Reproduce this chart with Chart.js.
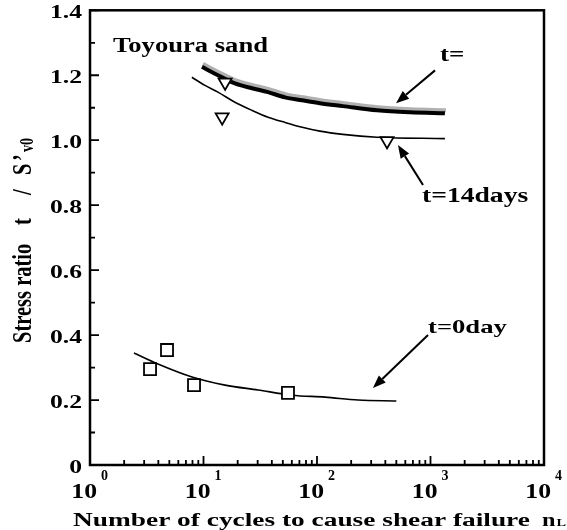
<!DOCTYPE html>
<html>
<head>
<meta charset="utf-8">
<script src="https://cdn.jsdelivr.net/npm/chart.js@4.4.1/dist/chart.umd.min.js"></script>
<style>
  html, body { margin: 0; padding: 0; background: #fff; }
  canvas { display: block; }
</style>
</head>
<body>
<canvas id="chart" width="567" height="530"></canvas>
<script>
// Number of cycles to failure (n_L) and stress ratio for each series
const LONG_CURVE_CYCLES = [9.7, 13.4, 18.9, 26.7, 37.0, 52.2, 73.8, 106, 169, 338, 660, 1340];
const LONG_CURVE_RATIO  = [1.226, 1.200, 1.175, 1.160, 1.148, 1.132, 1.123, 1.114, 1.105, 1.092, 1.086, 1.083];

const DAY14_CURVE_CYCLES = [7.9, 10.3, 13.4, 18.9, 26.7, 37.0, 52.0, 74.0, 106, 169, 338, 1340];
const DAY14_CURVE_RATIO  = [1.194, 1.169, 1.148, 1.117, 1.092, 1.071, 1.055, 1.040, 1.028, 1.018, 1.009, 1.005];
const DAY14_TEST_CYCLES  = [14.6, 15.5, 414];
const DAY14_TEST_RATIO   = [1.071, 1.178, 0.998];

const DAY0_CURVE_CYCLES = [2.44, 3.97, 7.92, 15.5, 30.2, 60.2, 118, 230, 500];
const DAY0_CURVE_RATIO  = [0.345, 0.311, 0.271, 0.246, 0.231, 0.215, 0.209, 0.200, 0.197];
const DAY0_TEST_CYCLES  = [3.38, 4.77, 8.25, 55.5];
const DAY0_TEST_RATIO   = [0.295, 0.354, 0.246, 0.222];

// Axis ticks: decades on x (labelled 10^e), stress ratio on y
const X_TICK_EXPONENTS = [0, 1, 2, 3, 4];
const Y_TICK_LABELS = ['0', '0.2', '0.4', '0.6', '0.8', '1.0', '1.2', '1.4'];

const FONT = "'Liberation Serif', 'Times New Roman', serif";

const toPoints = (xs, ys) => xs.map((x, i) => ({ x: x, y: ys[i] }));

// Text annotations and arrows, placed in data coordinates (cycles, ratio)
const LABELS = [
  { text: 'Toyoura sand', n: 1.595, r: 1.271, size: 20, sx: 1.33 },
  { text: 't=',           n: 1213,  r: 1.243, size: 20, sx: 1.35 },
  { text: 't=14days',     n: 841,   r: 0.809, size: 20, sx: 1.38 },
  { text: 't=0day',       n: 951,   r: 0.406, size: 19, sx: 1.4 }
];
const ARROWS = [
  { from: [1096, 1.215], to: [497, 1.114] },
  { from: [859, 0.862],  to: [517, 0.985] },
  { from: [951, 0.400],  to: [311, 0.237] }
];

function drawText(ctx, s, x, y, size, o) {
  o = o || {};
  ctx.save();
  ctx.font = 'bold ' + size + 'px ' + FONT;
  ctx.fillStyle = '#000';
  ctx.textAlign = o.align || 'left';
  ctx.textBaseline = o.baseline || 'alphabetic';
  ctx.translate(x, y);
  if (o.rot) ctx.rotate(o.rot);
  ctx.scale(o.sx || 1, o.sy || 1);
  ctx.fillText(s, 0, 0);
  const w = ctx.measureText(s).width * (o.sx || 1);
  ctx.restore();
  return w;
}

// Grey halo under the long-term curve
const haloPlugin = {
  id: 'halo',
  beforeDatasetDraw(chart, args) {
    if (args.index !== 0) return;
    const ctx = chart.ctx;
    ctx.save();
    ctx.shadowColor = '#b0b0b0';
    ctx.shadowBlur = 0;
    ctx.shadowOffsetX = 1;
    ctx.shadowOffsetY = -3;
  },
  afterDatasetDraw(chart, args) {
    if (args.index !== 0) return;
    chart.ctx.restore();
  }
};

// Frame, inward tick marks, tick labels, axis titles and annotations
const decorPlugin = {
  id: 'decor',
  afterDraw(chart) {
    const ctx = chart.ctx;
    const xs = chart.scales.x, ys = chart.scales.y;
    const { left, right, top, bottom } = chart.chartArea;

    ctx.save();
    ctx.strokeStyle = '#000';
    ctx.lineWidth = 2.5;
    ctx.strokeRect(left, top, right - left, bottom - top);

    // x ticks: decades and intermediate log ticks
    ctx.lineWidth = 1.8;
    ctx.beginPath();
    const eMin = X_TICK_EXPONENTS[0], eMax = X_TICK_EXPONENTS[X_TICK_EXPONENTS.length - 1];
    for (let e = eMin; e <= eMax; e++) {
      for (let k = 1; k <= 9; k++) {
        if (e === eMax && k > 1) break;
        const px = xs.getPixelForValue(k * Math.pow(10, e));
        const len = k === 1 ? 9 : 5;
        ctx.moveTo(px, bottom);
        ctx.lineTo(px, bottom - len);
      }
    }
    // y ticks every 0.1, longer at labelled values
    for (let i = 0; i <= 14; i++) {
      const py = ys.getPixelForValue(i / 10);
      const len = i % 2 === 0 ? 9 : 5;
      ctx.moveTo(left, py);
      ctx.lineTo(left + len, py);
    }
    ctx.stroke();
    ctx.restore();

    // y tick labels
    Y_TICK_LABELS.forEach(lbl => {
      const py = ys.getPixelForValue(parseFloat(lbl));
      drawText(ctx, lbl, left - 8, py + 3, 19, { align: 'right', baseline: 'middle', sx: 1.35 });
    });

    // x tick labels 10^e
    X_TICK_EXPONENTS.forEach(e => {
      const px = xs.getPixelForValue(Math.pow(10, e));
      drawText(ctx, '10', px + 7, bottom + 33, 22, { align: 'right', sx: 1.17 });
      drawText(ctx, String(e), px + 11, bottom + 15, 14, { align: 'left', sx: 1.0 });
    });

    // x axis title
    let xPos = 73;
    const titleBase = 526;
    xPos += drawText(ctx, 'Number of cycles to cause shear failure', xPos, titleBase, 18, { sx: 1.52 });
    xPos += 12;
    xPos += drawText(ctx, 'n', xPos, titleBase, 18, { sx: 1.35 });
    drawText(ctx, 'L', xPos + 1, titleBase, 11, { sx: 1.3 });

    // y axis title (rotated, reading upward)
    ctx.save();
    ctx.translate(31, 343);
    ctx.rotate(-Math.PI / 2);
    drawText(ctx, 'Stress ratio', 0, 0, 20.5, { sy: 1.38 });
    drawText(ctx, 't', 118, 0, 20.5, { sy: 1.38 });
    drawText(ctx, '/', 148, 0, 20.5, { sy: 1.38 });
    drawText(ctx, 'S', 168, 0, 20.5, { sy: 1.38 });
    drawText(ctx, '\u2019', 182, 0, 20.5, { sy: 1.38 });
    drawText(ctx, 'v0', 191, 2, 14, { sy: 1.3 });
    ctx.restore();

    // annotation texts
    LABELS.forEach(l => {
      drawText(ctx, l.text, xs.getPixelForValue(l.n), ys.getPixelForValue(l.r), l.size, { sx: l.sx });
    });

    // arrows
    ctx.save();
    ctx.strokeStyle = '#000';
    ctx.fillStyle = '#000';
    ctx.lineWidth = 2;
    ARROWS.forEach(a => {
      const x0 = xs.getPixelForValue(a.from[0]), y0 = ys.getPixelForValue(a.from[1]);
      const x1 = xs.getPixelForValue(a.to[0]),   y1 = ys.getPixelForValue(a.to[1]);
      const ang = Math.atan2(y1 - y0, x1 - x0);
      const head = 13, half = 5;
      const bx = x1 - head * Math.cos(ang), by = y1 - head * Math.sin(ang);
      ctx.beginPath();
      ctx.moveTo(x0, y0);
      ctx.lineTo(bx, by);
      ctx.stroke();
      ctx.beginPath();
      ctx.moveTo(x1, y1);
      ctx.lineTo(bx + half * Math.sin(ang), by - half * Math.cos(ang));
      ctx.lineTo(bx - half * Math.sin(ang), by + half * Math.cos(ang));
      ctx.closePath();
      ctx.fill();
    });
    ctx.restore();
  }
};

const hiddenAxis = {
  display: true,
  ticks: { display: false },
  grid: { display: false, drawTicks: false },
  border: { display: false },
  title: { display: false }
};

new Chart(document.getElementById('chart'), {
  type: 'scatter',
  data: {
    datasets: [
      {
        label: 't=',
        data: toPoints(LONG_CURVE_CYCLES, LONG_CURVE_RATIO),
        order: 1,
        showLine: true,
        borderColor: '#000',
        borderWidth: 4,
        pointRadius: 0,
        cubicInterpolationMode: 'monotone'
      },
      {
        label: 't=14days',
        data: toPoints(DAY14_CURVE_CYCLES, DAY14_CURVE_RATIO),
        order: 1,
        showLine: true,
        borderColor: '#000',
        borderWidth: 1.6,
        pointRadius: 0,
        cubicInterpolationMode: 'monotone'
      },
      {
        label: 't=14days tests',
        data: toPoints(DAY14_TEST_CYCLES, DAY14_TEST_RATIO),
        order: 0,
        pointStyle: 'triangle',
        rotation: 180,
        pointRadius: 7.5,
        pointBorderWidth: 1.8,
        pointBorderColor: '#000',
        pointBackgroundColor: '#fff'
      },
      {
        label: 't=0day',
        data: toPoints(DAY0_CURVE_CYCLES, DAY0_CURVE_RATIO),
        order: 1,
        showLine: true,
        borderColor: '#000',
        borderWidth: 1.6,
        pointRadius: 0,
        cubicInterpolationMode: 'monotone'
      },
      {
        label: 't=0day tests',
        data: toPoints(DAY0_TEST_CYCLES, DAY0_TEST_RATIO),
        order: 0,
        pointStyle: 'rect',
        pointRadius: 8.5,
        pointBorderWidth: 1.8,
        pointBorderColor: '#000',
        pointBackgroundColor: '#fff'
      }
    ]
  },
  options: {
    responsive: false,
    animation: false,
    devicePixelRatio: 1,
    layout: { padding: { left: 90, right: 23, top: 10, bottom: 65 } },
    plugins: { legend: { display: false }, tooltip: { enabled: false } },
    scales: {
      x: Object.assign({}, hiddenAxis, { type: 'logarithmic', min: 1, max: 10000 }),
      y: Object.assign({}, hiddenAxis, { type: 'linear', min: 0, max: 1.4 })
    }
  },
  plugins: [haloPlugin, decorPlugin]
});
</script>
</body>
</html>
